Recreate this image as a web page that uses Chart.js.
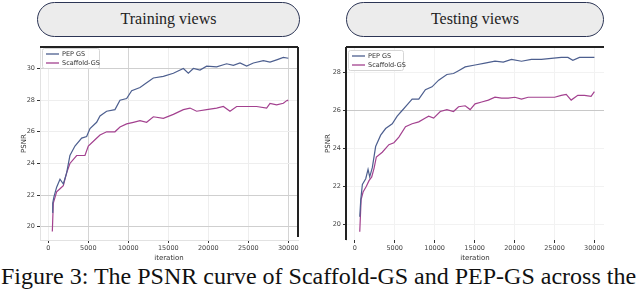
<!DOCTYPE html>
<html>
<head>
<meta charset="utf-8">
<script src="https://cdn.jsdelivr.net/npm/chart.js@4.4.1/dist/chart.umd.min.js"></script>
<style>
  body { margin: 0; background: #fff; }
  #page { position: relative; width: 640px; height: 291px; overflow: hidden; background: #fff; }
  .head { position: absolute; top: 2px; height: 35px; box-sizing: border-box; border: 1.5px solid #2c3555;
          border-radius: 18px; background: #ececec; font-family: "Liberation Serif", serif; font-size: 16px;
          color: #222; text-align: center; line-height: 32px; }
  .box { position: absolute; top: 40px; width: 320px; height: 222px; }
  #caption { position: absolute; left: 1px; top: 263px; font-family: "Liberation Serif", serif; font-size: 24px;
             color: #111; white-space: nowrap; }
</style>
</head>
<body>
<div id="page">
  <div class="head" style="left:37px;width:263px;">Training views</div>
  <div class="head" style="left:346px;width:258px;">Testing views</div>
  <div class="box" style="left:0px;"><canvas id="trainChart"></canvas></div>
  <div class="box" style="left:320px;"><canvas id="testChart"></canvas></div>
  <div id="caption">Figure 3: The PSNR curve of Scaffold-GS and PEP-GS across the</div>
</div>
<script>
// series names + colours
var seriesNames = ['PEP GS', 'Scaffold-GS'];
var seriesColors = ['#4d5f8f', '#a3418f'];

// tick labels
var xTicks = [0, 5000, 10000, 15000, 20000, 25000, 30000];
var trainYTicks = [20, 22, 24, 26, 28, 30];
var testYTicks = [20, 22, 24, 26, 28];

// training views
var trainPepIter = [500,550,708,1040,1460,1875,2290,2700,3330,4170,4790,5210,6040,6460,7290,8330,8960,9790,10420,11460,12290,13130,14380,15630,16880,17500,18130,18960,19790,21040,22290,23130,23960,24790,25630,26880,27710,28540,29380,30000];
var trainPepPsnr = [20.9,21.5,21.9,22.5,23.0,22.7,23.4,24.5,25.1,25.6,25.7,26.2,26.6,27.0,27.3,27.4,28.0,28.1,28.6,28.8,29.1,29.4,29.5,29.7,30.0,29.7,30.0,29.9,30.15,30.1,30.3,30.2,30.35,30.15,30.35,30.5,30.4,30.55,30.7,30.65];
var trainScafIter = [500,625,1040,1460,1875,2290,2700,3540,4580,5000,5830,6460,7290,8330,8960,9790,10630,11460,12290,13130,14380,15630,16880,17710,18540,19790,21040,21880,22710,23540,24790,26040,27290,27710,28540,29380,29880,30000];
var trainScafPsnr = [19.7,21.5,22.2,22.4,22.6,23.4,24.0,24.5,24.5,25.1,25.5,25.8,26.0,26.0,26.3,26.5,26.6,26.7,26.6,26.95,26.85,27.1,27.4,27.5,27.3,27.4,27.5,27.6,27.3,27.6,27.6,27.6,27.5,27.8,27.7,27.8,28.0,27.95];

// testing views
var testPepIter = [622,750,950,1370,1660,1870,2200,2610,3240,3860,4690,5310,5930,6550,7180,8010,8840,9670,10500,11530,12360,12990,13820,15060,16300,17550,18590,19620,20870,22110,23360,24600,25850,26680,27300,28130,29170,30000];
var testPepPsnr = [20.4,21.3,22.1,22.4,22.9,22.5,23.0,24.1,24.7,25.05,25.3,25.7,26.0,26.3,26.6,26.6,27.1,27.25,27.6,27.9,27.95,28.1,28.3,28.4,28.5,28.6,28.55,28.7,28.6,28.7,28.7,28.75,28.8,28.8,28.65,28.8,28.8,28.8];
var testScafIter = [622,790,1040,1450,1780,2120,2410,2700,3440,4270,4900,5520,6350,7180,8010,8840,9250,9870,10700,11530,12360,12990,13820,14440,15060,15890,16720,17550,18380,19210,20040,20870,21700,22530,23360,24190,25020,25850,26470,27090,27920,28750,29580,30000];
var testScafPsnr = [19.6,21.3,21.7,22.0,22.3,22.5,22.95,23.55,23.8,24.2,24.3,24.6,25.15,25.3,25.4,25.6,25.7,25.6,25.95,26.05,25.95,26.2,26.25,26.05,26.35,26.45,26.55,26.7,26.65,26.65,26.7,26.6,26.7,26.7,26.7,26.7,26.7,26.8,26.85,26.55,26.8,26.8,26.75,27.0];

function toPoints(xs, ys) {
  return xs.map(function (x, i) { return { x: x, y: ys[i] }; });
}

// dark frame lines on chosen sides
var framePlugin = {
  id: 'frame',
  afterDatasetsDraw: function (chart, args, opts) {
    var ctx = chart.ctx, a = chart.chartArea;
    ctx.save();
    ctx.strokeStyle = '#222';
    ctx.lineWidth = 2;
    ctx.beginPath();
    if (opts.sides.indexOf('top') >= 0) { ctx.moveTo(a.left, a.top); ctx.lineTo(a.right, a.top); }
    if (opts.sides.indexOf('right') >= 0) { ctx.moveTo(a.right, a.top); ctx.lineTo(a.right, a.bottom - 3); }
    if (opts.sides.indexOf('left') >= 0) { ctx.moveTo(a.left, a.top); ctx.lineTo(a.left, a.bottom); }
    ctx.stroke();
    ctx.restore();
  }
};

// legend box drawn inside the plot, top-left
var boxLegend = {
  id: 'boxLegend',
  afterDraw: function (chart, args, opts) {
    var ctx = chart.ctx, a = chart.chartArea;
    var x = a.left + opts.dx, y = a.top + opts.dy;
    ctx.save();
    ctx.fillStyle = 'rgba(255,255,255,0.9)';
    ctx.strokeStyle = '#d6d6d6';
    ctx.lineWidth = 1;
    ctx.beginPath();
    ctx.roundRect(x + 0.5, y + 0.5, opts.w, 20, 2);
    ctx.fill();
    ctx.stroke();
    ctx.font = '6.5px "DejaVu Sans"';
    ctx.textBaseline = 'middle';
    chart.data.datasets.forEach(function (ds, i) {
      var ly = y + 6 + i * 9;
      ctx.strokeStyle = ds.borderColor;
      ctx.lineWidth = 1.3;
      ctx.beginPath();
      ctx.moveTo(x + 4, ly);
      ctx.lineTo(x + 17, ly);
      ctx.stroke();
      ctx.fillStyle = '#333';
      ctx.fillText(ds.label, x + 20, ly);
    });
    ctx.restore();
  }
};

function plain(v) { return String(v); }

function makeChart(id, sets, cfg) {
  var datasets = sets.map(function (s, i) {
    return {
      label: seriesNames[i],
      data: s,
      borderColor: seriesColors[i],
      borderWidth: 1.2,
      pointRadius: 0,
      tension: 0
    };
  });
  var tickFont = { family: 'DejaVu Sans', size: 6.5 };

  return new Chart(document.getElementById(id), {
    type: 'line',
    data: { datasets: datasets },
    plugins: [framePlugin, boxLegend],
    options: {
      responsive: true,
      maintainAspectRatio: false,
      animation: false,
      layout: { padding: { top: 7, right: cfg.padRight, left: 0, bottom: 0 } },
      plugins: {
        legend: { display: false },
        tooltip: { enabled: false },
        frame: { sides: cfg.sides },
        boxLegend: { dx: cfg.legendDx, dy: cfg.legendDy, w: cfg.legendW }
      },
      scales: {
        x: {
          type: 'linear',
          min: cfg.xMin, max: cfg.xMax,
          afterBuildTicks: function (s) { s.ticks = xTicks.map(function (v) { return { value: v }; }); },
          afterFit: function (s) { s.height = 22; },
          ticks: { font: tickFont, color: '#444', padding: 1, maxRotation: 0, autoSkip: false, callback: plain },
          grid: { color: cfg.xGrid, tickColor: '#333', tickLength: 3 },
          border: { display: cfg.bottomBorder, color: '#e2e2e2' },
          title: { display: true, text: 'iteration', font: { family: 'DejaVu Sans', size: 7 }, color: '#333', padding: { top: 0, bottom: 0 } }
        },
        y: {
          min: cfg.yMin, max: cfg.yMax,
          afterBuildTicks: function (s) { s.ticks = cfg.yTicks.map(function (v) { return { value: v }; }); },
          afterFit: function (s) { s.width = cfg.yWidth; },
          ticks: { font: tickFont, color: '#444', padding: 2, callback: plain },
          grid: { color: cfg.yGrid, tickColor: '#333', tickLength: 3 },
          border: { color: '#e2e2e2' },
          title: { display: true, text: 'PSNR', font: { family: 'DejaVu Sans', size: 7 }, color: '#333', padding: { top: cfg.yTitlePad, bottom: 0 } }
        }
      }
    }
  });
}

makeChart('trainChart', [toPoints(trainPepIter, trainPepPsnr), toPoints(trainScafIter, trainScafPsnr)], {
  xMin: -1040, xMax: 31210, yMin: 19.16, yMax: 31.36, yTicks: trainYTicks,
  yWidth: 40, padRight: 22, yTitlePad: 20, sides: ['top', 'right'], bottomBorder: true,
  legendDx: 2, legendDy: 1, legendW: 57,
  xGrid: function (c) { return [5000, 10000, 30000].indexOf(c.tick.value) >= 0 ? '#d4d4d4' : '#eeeeee'; },
  yGrid: function (c) { return [20, 22, 30].indexOf(c.tick.value) >= 0 ? '#cfcfcf' : '#eeeeee'; }
});

makeChart('testChart', [toPoints(testPepIter, testPepPsnr), toPoints(testScafIter, testScafPsnr)], {
  xMin: -1100, xMax: 31200, yMin: 19.17, yMax: 29.35, yTicks: testYTicks,
  yWidth: 26, padRight: 36, yTitlePad: 4, sides: ['top', 'left'], bottomBorder: false,
  legendDx: 2, legendDy: 3, legendW: 55,
  xGrid: function (c) { return '#f2f2f2'; },
  yGrid: function (c) { return c.tick.value === 26 ? '#c8c8c8' : '#f2f2f2'; }
});
</script>
</body>
</html>
